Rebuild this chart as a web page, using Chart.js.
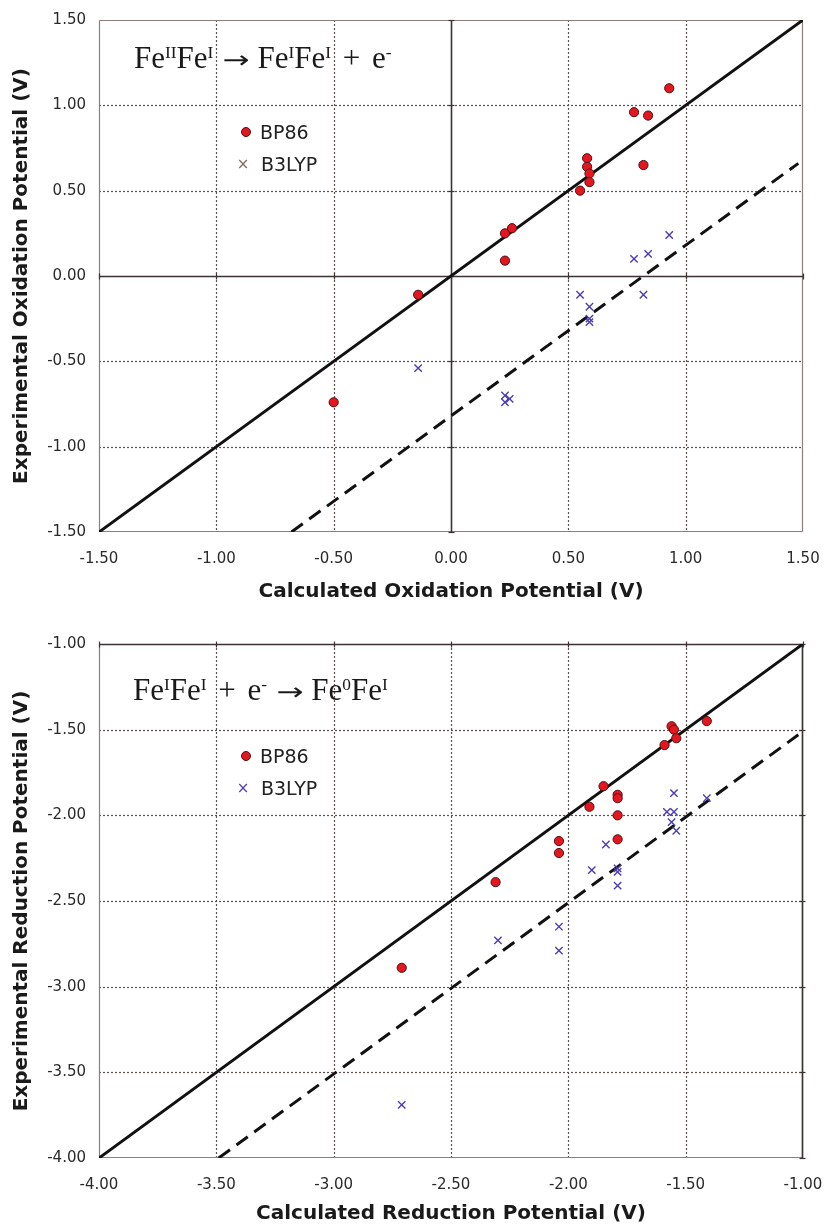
<!DOCTYPE html>
<html>
<head>
<meta charset="utf-8">
<script src="https://cdn.jsdelivr.net/npm/chart.js@4.4.1/dist/chart.umd.min.js"></script>
<style>
  html, body { margin: 0; padding: 0; background: #fff; }
  #page { position: relative; width: 826px; height: 1226px; overflow: hidden; }
  .box { position: absolute; left: 0; width: 826px; }
  .eq { position: absolute; font-family: "Liberation Serif", "DejaVu Serif", serif; font-size: 31px; line-height: 31px; color: #1a1a1a; white-space: nowrap; }
  .eq sup { font-size: 56%; vertical-align: 0.58em; line-height: 0; }
  .eq .arr { display: inline-block; font-family: "DejaVu Sans", sans-serif; font-size: 24px; transform: scaleX(1.35); margin: 0 11px 0 13px; }
  .eq .pl { margin: 0 4px; }
  .lg { position: absolute; font-family: "DejaVu Sans", Verdana, sans-serif; font-size: 19px; line-height: 22px; color: #222; white-space: nowrap; }
  .dot { position: absolute; width: 10px; height: 10px; box-sizing: border-box; border-radius: 50%; background: #e5161f; border: 1px solid #4b1212; }
  .cross { position: absolute; width: 14px; text-align: center; font-family: "DejaVu Sans", sans-serif; font-size: 15px; line-height: 20px; }
</style>
</head>
<body>
<div id="page">
  <div class="box" style="top:0;height:610px"><canvas id="oxChart" width="826" height="610"></canvas></div>
  <div class="box" style="top:612px;height:614px"><canvas id="redChart" width="826" height="614"></canvas></div>

  <div class="eq" style="left:134px;top:42px">Fe<sup>II</sup>Fe<sup>I</sup><span class="arr">→</span>Fe<sup>I</sup>Fe<sup>I</sup><span class="pl"> + </span>e<sup>-</sup></div>
  <div class="dot" style="left:241px;top:127px"></div>
  <div class="lg" style="left:260px;top:121px">BP86</div>
  <div class="cross" style="left:236px;top:154px;color:#86665e">×</div>
  <div class="lg" style="left:261px;top:153px">B3LYP</div>

  <div class="eq" style="left:133px;top:674px">Fe<sup>I</sup>Fe<sup>I</sup><span class="pl"> + </span>e<sup>-</sup><span class="arr">→</span>Fe<sup>0</sup>Fe<sup>I</sup></div>
  <div class="dot" style="left:241px;top:751px"></div>
  <div class="lg" style="left:260px;top:745px">BP86</div>
  <div class="cross" style="left:236px;top:778px;color:#4c3db3">×</div>
  <div class="lg" style="left:261px;top:777px">B3LYP</div>
</div>
<script>
// oxidation: Fe(II)Fe(I) -> Fe(I)Fe(I) + e-
const oxBp86Calc = [0.93, 0.78, 0.84, 0.58, 0.58, 0.59, 0.59, 0.55, 0.82, 0.23, 0.26, 0.23, -0.14, -0.50];
const oxBp86Exp  = [1.10, 0.96, 0.94, 0.69, 0.64, 0.60, 0.55, 0.50, 0.65, 0.25, 0.28, 0.09, -0.11, -0.74];
const oxB3lypCalc = [0.93, 0.84, 0.78, 0.82, 0.55, 0.59, 0.59, 0.59, -0.14, 0.23, 0.23, 0.25];
const oxB3lypExp  = [0.24, 0.13, 0.10, -0.11, -0.11, -0.18, -0.25, -0.27, -0.54, -0.70, -0.74, -0.72];
const oxIdealX = [-1.50, 1.50];
const oxIdealY = [-1.50, 1.50];
const oxShiftX = [-0.68, 1.48];
const oxShiftY = [-1.50, 0.66];

// reduction: Fe(I)Fe(I) + e- -> Fe(0)Fe(I)
const redBp86Calc = [-1.41, -1.56, -1.55, -1.54, -1.59, -1.85, -1.79, -1.79, -1.91, -1.79, -1.79, -2.04, -2.04, -2.31, -2.71];
const redBp86Exp  = [-1.45, -1.48, -1.50, -1.55, -1.59, -1.83, -1.88, -1.90, -1.95, -2.00, -2.14, -2.15, -2.22, -2.39, -2.89];
const redB3lypCalc = [-1.41, -1.55, -1.58, -1.55, -1.56, -1.54, -1.84, -1.90, -1.79, -1.79, -1.79, -2.04, -2.04, -2.30, -2.71];
const redB3lypExp  = [-1.90, -1.87, -1.98, -1.98, -2.04, -2.09, -2.17, -2.32, -2.31, -2.33, -2.41, -2.65, -2.79, -2.73, -3.69];
const redIdealX = [-4.00, -1.00];
const redIdealY = [-4.00, -1.00];
const redShiftX = [-3.49, -1.02];
const redShiftY = [-4.00, -1.53];

const TICK_FONT = { family: '"DejaVu Sans", Verdana, sans-serif', size: 15 };
const TITLE_FONT = { family: '"DejaVu Sans", Verdana, sans-serif', size: 20, weight: 'bold' };

const pts = (xs, ys) => xs.map((x, i) => ({ x, y: ys[i] }));
const fmt = v => (Math.abs(v) < 1e-9 ? 0 : v).toFixed(2);

// excel style grid: dotted inner lines, grey frame, solid axis lines where the axes cross
const excelGrid = {
  id: 'excelGrid',
  beforeDatasetsDraw(chart, args, opts) {
    const { ctx, chartArea: a, scales: { x, y } } = chart;
    const seg = (x1, y1, x2, y2, color, width, dash) => {
      ctx.save();
      ctx.strokeStyle = color;
      ctx.lineWidth = width;
      ctx.setLineDash(dash || []);
      ctx.beginPath();
      ctx.moveTo(x1, y1);
      ctx.lineTo(x2, y2);
      ctx.stroke();
      ctx.restore();
    };
    const near = (a, b) => Math.abs(a - b) < 1e-6;
    x.ticks.forEach(t => {
      if (near(t.value, x.min) || near(t.value, x.max) || near(t.value, opts.crossX)) return;
      const px = Math.round(x.getPixelForValue(t.value)) + 0.5;
      seg(px, a.top, px, a.bottom, '#5b5250', 1.2, [2, 2]);
    });
    y.ticks.forEach(t => {
      if (near(t.value, y.min) || near(t.value, y.max) || near(t.value, opts.crossY)) return;
      const py = Math.round(y.getPixelForValue(t.value)) + 0.5;
      seg(a.left, py, a.right, py, '#5b5250', 1.2, [2, 2]);
    });
    // frame
    const L = Math.round(a.left) + 0.5, R = Math.round(a.right) - 0.5;
    const T = Math.round(a.top) + 0.5, B = Math.round(a.bottom) - 0.5;
    seg(L, T, R, T, '#8c7f7c', 1.2);
    seg(L, B, R, B, '#8c7f7c', 1.2);
    seg(L, T, L, B, '#8c7f7c', 1.2);
    seg(R, T, R, B, '#8c7f7c', 1.2);
    // axis lines at the crossing values, with small tick marks
    const ax = Math.min(R, Math.round(x.getPixelForValue(opts.crossX)) + 0.5);
    const ay = Math.max(T, Math.round(y.getPixelForValue(opts.crossY)) + 0.5);
    seg(ax, a.top, ax, a.bottom, '#3a3332', 1.6);
    seg(a.left, ay, a.right, ay, '#3a3332', 1.6);
    y.ticks.forEach(t => {
      const py = Math.round(y.getPixelForValue(t.value)) + 0.5;
      seg(ax - 3, py, ax + 3, py, '#3a3332', 1.2);
    });
    x.ticks.forEach(t => {
      const px = Math.round(x.getPixelForValue(t.value)) + 0.5;
      seg(px, ay - 3, px, ay + 3, '#3a3332', 1.2);
    });
  }
};

function makeChart(id, c) {
  return new Chart(document.getElementById(id), {
    type: 'scatter',
    data: {
      datasets: [
        { label: 'BP86', data: pts(c.bpX, c.bpY), pointStyle: 'circle', pointRadius: 4.6,
          backgroundColor: '#e5161f', borderColor: '#4b1212', borderWidth: 1 },
        { label: 'B3LYP', data: pts(c.b3X, c.b3Y), pointStyle: 'crossRot', pointRadius: 5.2,
          borderColor: '#4c3db3', backgroundColor: '#4c3db3', borderWidth: 1.4 },
        { label: 'ideal', data: pts(c.idealX, c.idealY), showLine: true, pointRadius: 0,
          borderColor: '#111', borderWidth: 3 },
        { label: 'shifted', data: pts(c.shiftX, c.shiftY), showLine: true, pointRadius: 0,
          borderColor: '#111', borderWidth: 3, borderDash: [14, 8] }
      ]
    },
    options: {
      responsive: false, animation: false, events: [],
      layout: { padding: { top: c.padTop, right: 23, left: 0, bottom: 0 } },
      plugins: { legend: { display: false }, tooltip: { enabled: false },
        excelGrid: { crossX: c.crossX, crossY: c.crossY } },
      scales: {
        x: {
          type: 'linear', min: c.min, max: c.max,
          ticks: { stepSize: 0.5, callback: fmt, font: TICK_FONT, color: '#2a2a2a', padding: 18, maxRotation: 0, autoSkip: false },
          grid: { display: false, drawTicks: false }, border: { display: false },
          title: { display: true, text: c.xTitle, font: TITLE_FONT, color: '#1a1a1a', padding: { top: 0, bottom: c.xTitlePad } },
          afterFit: s => { s.height = c.xAxisH; s.paddingLeft = 0; s.paddingRight = 0; }
        },
        y: {
          type: 'linear', min: c.min, max: c.max,
          ticks: { stepSize: 0.5, callback: fmt, font: TICK_FONT, color: '#2a2a2a', padding: 13 },
          grid: { display: false, drawTicks: false }, border: { display: false },
          title: { display: true, text: c.yTitle, font: TITLE_FONT, color: '#1a1a1a', padding: { top: 10, bottom: 0 } },
          afterFit: s => { s.width = 99; s.paddingTop = 0; s.paddingBottom = 0; }
        }
      }
    },
    plugins: [excelGrid]
  });
}

makeChart('oxChart', {
  bpX: oxBp86Calc, bpY: oxBp86Exp, b3X: oxB3lypCalc, b3Y: oxB3lypExp,
  idealX: oxIdealX, idealY: oxIdealY, shiftX: oxShiftX, shiftY: oxShiftY,
  min: -1.5, max: 1.5, crossX: 0, crossY: 0,
  padTop: 20, xAxisH: 78, xTitlePad: 6,
  xTitle: 'Calculated Oxidation Potential (V)',
  yTitle: 'Experimental Oxidation Potential (V)'
});

makeChart('redChart', {
  bpX: redBp86Calc, bpY: redBp86Exp, b3X: redB3lypCalc, b3Y: redB3lypExp,
  idealX: redIdealX, idealY: redIdealY, shiftX: redShiftX, shiftY: redShiftY,
  min: -4, max: -1, crossX: -1, crossY: -1,
  padTop: 32, xAxisH: 68, xTitlePad: 0,
  xTitle: 'Calculated Reduction Potential (V)',
  yTitle: 'Experimental Reduction Potential (V)'
});
</script>
</body>
</html>
